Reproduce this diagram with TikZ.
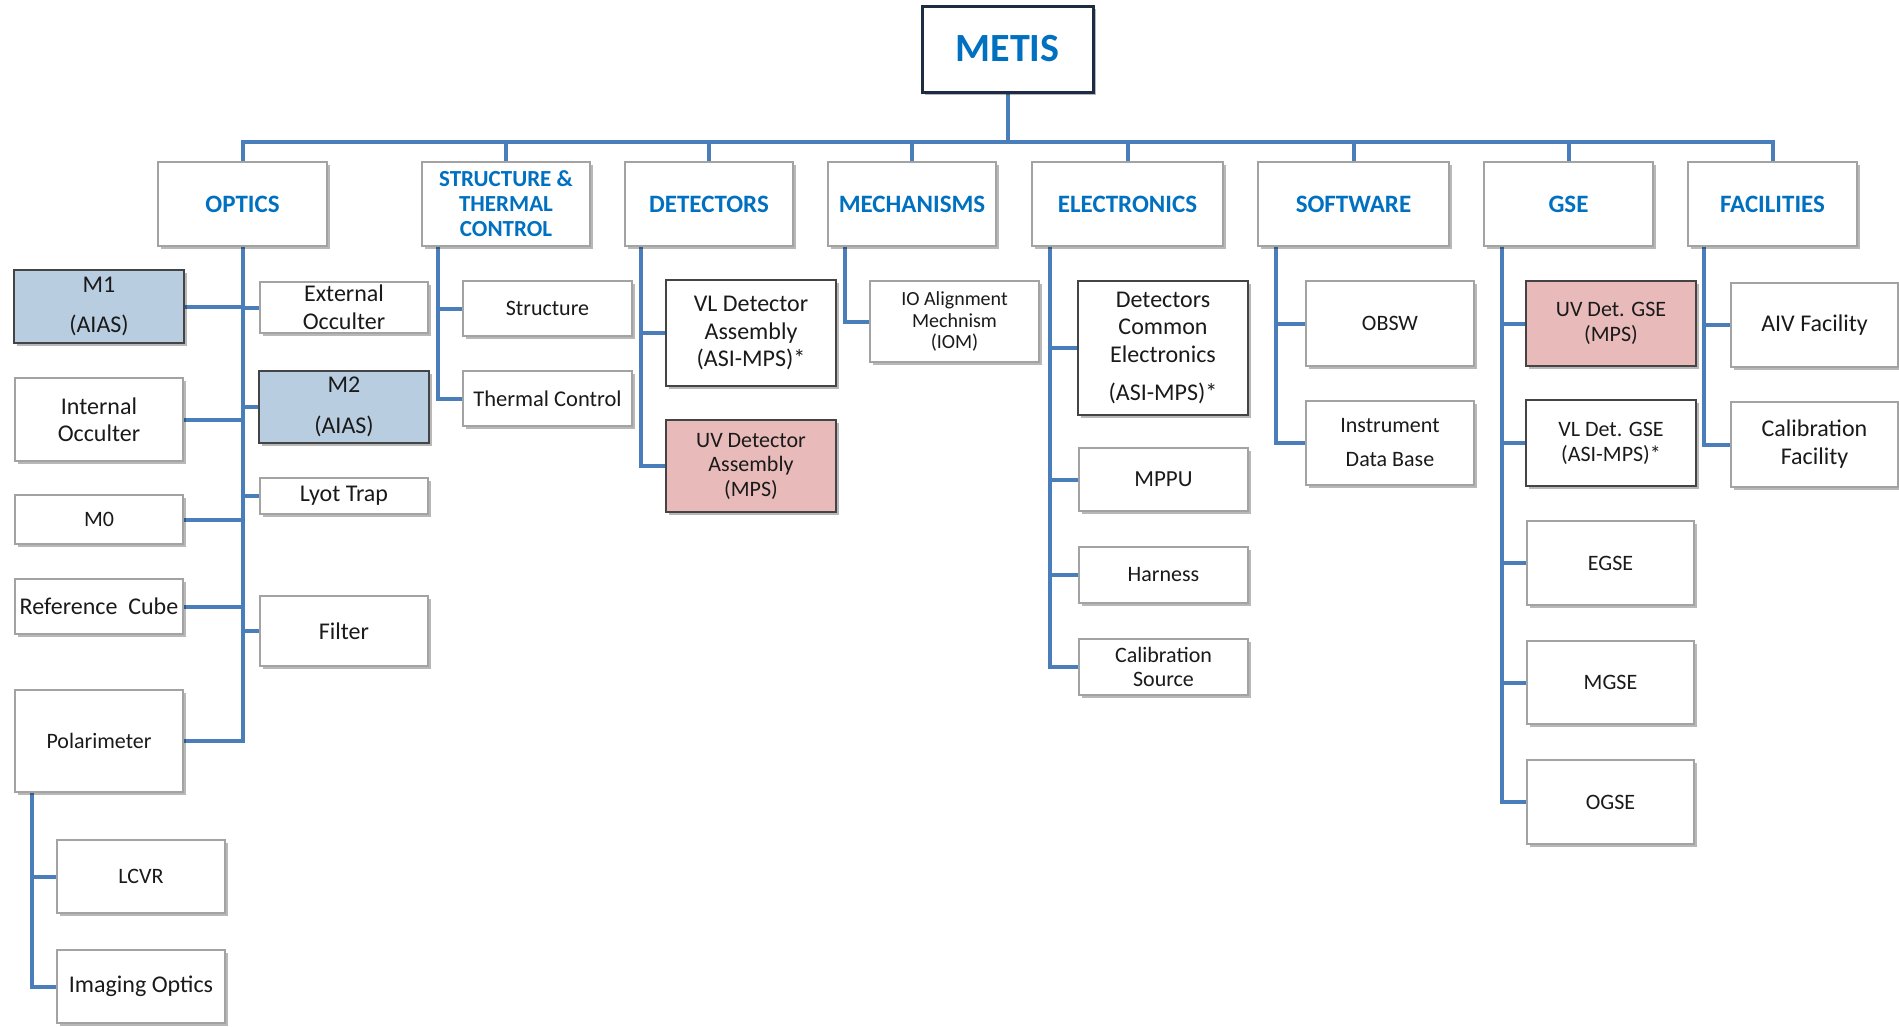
\documentclass[tikz,border=0pt]{standalone}
\usepackage{fontspec}
\setmainfont{Carlito}
\usetikzlibrary{shadows,backgrounds}
\definecolor{hdrblue}{HTML}{0070C0}
\definecolor{linkblue}{HTML}{4A7EBB}
\definecolor{litegray}{HTML}{A3A3A3}
\definecolor{darkgray}{HTML}{444444}
\definecolor{metisborder}{HTML}{1E2B44}
\definecolor{fillblue}{HTML}{B9CDE0}
\definecolor{fillpink}{HTML}{E8BABA}
\definecolor{txt}{HTML}{1A1A1A}
\newcommand\mybox[7][]{%
  \node[box,#1,minimum width={(#5)-(#3)},minimum height={(#6)-(#4)}]
    (#2) at ({((#3)+(#5))/2},{((#4)+(#6))/2}) {#7};}
\tikzset{
  box/.style={draw=litegray,line width=1.5pt,fill=white,inner sep=0pt,outer sep=0pt,
    align=center,text=txt,font=\fontsize{23}{27}\selectfont,
    drop shadow={opacity=0.28,shadow xshift=3pt,shadow yshift=-3pt,fill=black}},
  darkbox/.style={draw=darkgray,line width=2.5pt},
  hdr/.style={text=hdrblue,font=\bfseries\fontsize{25}{25}\selectfont},
  bluebox/.style={darkbox,fill=fillblue},
  pinkbox/.style={darkbox,fill=fillpink},
  link/.style={draw=linkblue,line width=4pt,line join=miter},
}
\begin{document}
\begin{tikzpicture}[x=1pt,y=-1pt]
\useasboundingbox (0,0) rectangle (1899,1026);
% top
\mybox[draw=metisborder,line width=3pt,text=hdrblue,font=\bfseries\fontsize{40}{44}\selectfont]{metis}{922}{6}{1093}{92}{METIS}
% headers
\mybox[hdr]{optics}{158}{162}{327}{246}{OPTICS}
\mybox[hdr,font=\bfseries\fontsize{23}{25}\selectfont]{struct}{422}{162}{590}{246}{STRUCTURE \&\\THERMAL\\CONTROL}
\mybox[hdr]{detectors}{625}{162}{793}{246}{DETECTORS}
\mybox[hdr]{mech}{828}{162}{996}{246}{MECHANISMS}
\mybox[hdr]{elec}{1032}{162}{1223}{246}{ELECTRONICS}
\mybox[hdr]{soft}{1258}{162}{1449}{246}{SOFTWARE}
\mybox[hdr]{gse}{1484}{162}{1653}{246}{GSE}
\mybox[hdr]{fac}{1688}{162}{1857}{246}{FACILITIES}
% optics children
\mybox[bluebox,font=\fontsize{24}{40}\selectfont]{mone}{14}{270}{184}{343}{M1\\(AIAS)}
\mybox[font=\fontsize{24}{28}\selectfont]{extocc}{260}{282}{428}{333}{External\\Occulter}
\mybox[font=\fontsize{24}{27}\selectfont]{intocc}{15}{378}{183}{461}{Internal\\Occulter}
\mybox[bluebox,font=\fontsize{24}{41}\selectfont]{mtwo}{259}{371}{429}{443}{M2\\(AIAS)}
\mybox[font=\fontsize{24}{27}\selectfont]{lyot}{260}{478}{428}{514}{Lyot Trap}
\mybox[font=\fontsize{22}{27}\selectfont]{mzero}{15}{495}{183}{544}{M0}
\mybox[font=\fontsize{24}{27}\selectfont]{refcube}{15}{579}{183}{634}{Reference\ \ Cube}
\mybox[font=\fontsize{24}{27}\selectfont]{filter}{260}{596}{428}{666}{Filter}
\mybox[font=\fontsize{22}{27}\selectfont]{polar}{15}{690}{183}{792}{Polarimeter}
\mybox[font=\fontsize{22}{27}\selectfont]{lcvr}{57}{840}{225}{913}{LCVR}
\mybox[font=\fontsize{24}{27}\selectfont]{imaging}{57}{950}{225}{1023}{Imaging Optics}
% structure children
\mybox[font=\fontsize{22}{27}\selectfont]{structure}{463}{281}{632}{336}{Structure}
\mybox[font=\fontsize{22.5}{27}\selectfont]{thermal}{463}{371}{632}{426}{Thermal Control}
% detectors children
\mybox[darkbox,font=\fontsize{24}{27.5}\selectfont]{vldet}{666}{280}{836}{386}{VL Detector\\Assembly\\(ASI-MPS)*}
\mybox[pinkbox,font=\fontsize{22}{24.5}\selectfont]{uvdet}{666}{420}{836}{512}{UV Detector\\Assembly\\(MPS)}
% mechanisms child
\mybox[font=\fontsize{20}{21.5}\selectfont]{iom}{870}{281}{1039}{362}{IO Alignment\\Mechnism\\(IOM)}
% electronics children
\mybox[darkbox,font=\fontsize{24}{27.5}\selectfont]{dce}{1078}{281}{1248}{415}{Detectors\\Common\\Electronics\\[11pt](ASI-MPS)*}
\mybox[font=\fontsize{23}{27}\selectfont]{mppu}{1079}{448}{1248}{511}{MPPU}
\mybox[font=\fontsize{22}{27}\selectfont]{harness}{1079}{547}{1248}{603}{Harness}
\mybox[font=\fontsize{22}{23.5}\selectfont]{calsrc}{1079}{639}{1248}{695}{Calibration\\Source}
% software children
\mybox[font=\fontsize{22}{27}\selectfont]{obsw}{1306}{281}{1474}{366}{OBSW}
\mybox[font=\fontsize{22}{34}\selectfont]{idb}{1306}{401}{1474}{485}{Instrument\\Data Base}
% gse children
\mybox[pinkbox,font=\fontsize{22}{25}\selectfont]{uvgse}{1526}{281}{1696}{366}{UV Det. GSE\\(MPS)}
\mybox[darkbox,font=\fontsize{22}{25}\selectfont]{vlgse}{1526}{400}{1696}{486}{VL Det. GSE\\(ASI-MPS)*}
\mybox[font=\fontsize{22}{27}\selectfont]{egse}{1527}{521}{1694}{605}{EGSE}
\mybox[font=\fontsize{22}{27}\selectfont]{mgse}{1527}{641}{1694}{724}{MGSE}
\mybox[font=\fontsize{22}{27}\selectfont]{ogse}{1527}{760}{1694}{844}{OGSE}
% facilities children
\mybox[font=\fontsize{24}{27}\selectfont]{aiv}{1731}{283}{1898}{367}{AIV Facility}
\mybox[font=\fontsize{24}{28}\selectfont]{calfac}{1731}{402}{1898}{487}{Calibration\\Facility}

\begin{scope}[on background layer]
\fill[white] (0,0) rectangle (1899,1026);
\coordinate (bus) at (1007.5,142);
\draw[link] (metis.south) -- (bus);
\foreach \h in {optics,struct,detectors,mech,elec,soft,gse,fac}
  \draw[link] (\h.north) |- (bus);
% optics
\foreach \c in {mone,intocc,mzero,refcube,polar}
  \draw[link] (optics.south) |- (\c.east);
\foreach \c in {extocc,mtwo,lyot,filter}
  \draw[link] (optics.south) |- (\c.west);
\foreach \c in {lcvr,imaging}
  \draw[link] ([xshift=17pt]polar.south west) |- (\c.west);
\foreach \c in {structure,thermal}
  \draw[link] ([xshift=16pt]struct.south west) |- (\c.west);
\foreach \c in {vldet,uvdet}
  \draw[link] ([xshift=16pt]detectors.south west) |- (\c.west);
\draw[link] ([xshift=17pt]mech.south west) |- (iom.west);
\foreach \c in {dce,mppu,harness,calsrc}
  \draw[link] ([xshift=18pt]elec.south west) |- (\c.west);
\foreach \c in {obsw,idb}
  \draw[link] ([xshift=18pt]soft.south west) |- (\c.west);
\foreach \c in {uvgse,vlgse,egse,mgse,ogse}
  \draw[link] ([xshift=18pt]gse.south west) |- (\c.west);
\foreach \c in {aiv,calfac}
  \draw[link] ([xshift=16pt]fac.south west) |- (\c.west);
\end{scope}
\end{tikzpicture}
\end{document}
